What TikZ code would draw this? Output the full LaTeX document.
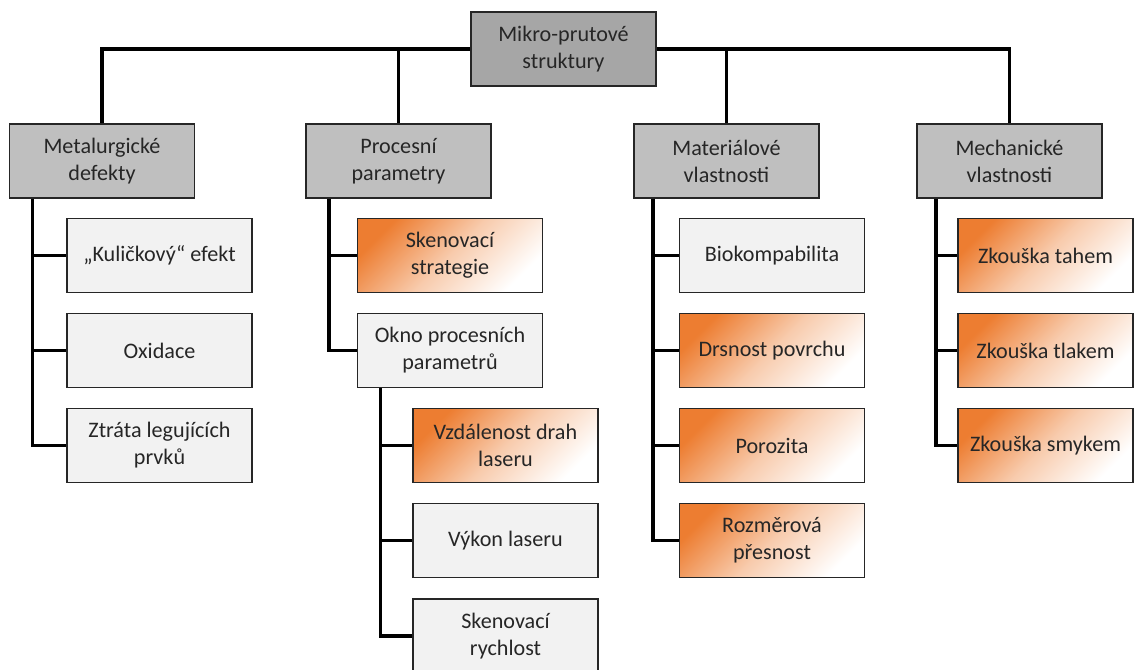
\documentclass[tikz,border=0pt]{standalone}
\usepackage{fontspec}
\setmainfont{Carlito}
\usetikzlibrary{positioning}
\definecolor{rootgray}{RGB}{166,166,166}
\definecolor{catgray}{RGB}{191,191,191}
\definecolor{leafgray}{RGB}{242,242,242}
\definecolor{leaforange}{RGB}{237,125,49}
\definecolor{boxline}{RGB}{38,38,38}
\definecolor{textgray}{RGB}{38,38,38}

\begin{document}
\begin{tikzpicture}[x=0.02cm, y=-0.02cm,
    box/.style={draw=boxline, line width=1.1pt, minimum width=3.7cm, minimum height=1.48cm,
        inner sep=0pt, align=center, text=textgray, font=\fontsize{12.6}{15.4}\selectfont},
    rootbox/.style={box, fill=rootgray},
    catbox/.style={box, fill=catgray},
    leafbox/.style={box, fill=leafgray},
    hotbox/.style={box, top color=leaforange, bottom color=white, middle color=leaforange!40, shading angle=45},
    conn/.style={line width=2pt, black}]
    \useasboundingbox (0,0) rectangle (1135,669);

    % Root
    \node[rootbox] (root) at (563.5,49) {Mikro-prutové\\struktury};

    % Categories
    \node[catbox] (metal) at (102,161) {Metalurgické\\defekty};
    \node[catbox] (proces) at (398.5,161) {Procesní\\parametry};
    \node[catbox] (mater) at (726.5,161) {Materiálové\\vlastnosti};
    \node[catbox] (mech) at (1009.5,161) {Mechanické\\vlastnosti};

    % Metalurgicke defekty
    \node[leafbox] (kul) at (159.5,255.5) {„Kuličkový“ efekt};
    \node[leafbox] (oxi) at (159.5,350.5) {Oxidace};
    \node[leafbox] (ztr) at (159.5,445.5) {Ztráta legujících\\prvků};

    % Procesni parametry
    \node[hotbox] (sken) at (450,255.5) {Skenovací\\strategie};
    \node[leafbox] (okno) at (450,350.5) {Okno procesních\\parametrů};
    \node[hotbox] (vzd) at (505.5,445.5) {Vzdálenost drah\\laseru};
    \node[leafbox] (vyk) at (505.5,540.5) {Výkon laseru};
    \node[leafbox] (rych) at (505.5,636) {Skenovací\\rychlost};

    % Materialove vlastnosti
    \node[leafbox] (bio) at (772,255.5) {Biokompabilita};
    \node[hotbox] (drs) at (772,350.5) {Drsnost povrchu};
    \node[hotbox] (por) at (772,445.5) {Porozita};
    \node[hotbox] (roz) at (772,540.5) {Rozměrová\\přesnost};

    % Mechanicke vlastnosti
    \node[hotbox, minimum width=3.5cm] (tah) at (1045.5,255.5) {Zkouška tahem};
    \node[hotbox, minimum width=3.5cm] (tlak) at (1045.5,350.5) {Zkouška tlakem};
    \node[hotbox, minimum width=3.5cm] (smyk) at (1045.5,445.5) {Zkouška smykem};

    % Top bar
    \draw[conn] (root.west) -| (metal.north);
    \draw[conn] (root.east) -| (mech.north);
    \draw[conn] (proces.north) -- (proces.north |- root.west);
    \draw[conn] (mater.north) -- (mater.north |- root.east);

    % Branches
    \foreach \k in {kul,oxi,ztr}
        \draw[conn] ([xshift=0.48cm]metal.south west) |- (\k.west);
    \foreach \k in {sken,okno}
        \draw[conn] ([xshift=0.48cm]proces.south west) |- (\k.west);
    \foreach \k in {vzd,vyk,rych}
        \draw[conn] ([xshift=0.48cm]okno.south west) |- (\k.west);
    \foreach \k in {bio,drs,por,roz}
        \draw[conn] ([xshift=0.4cm]mater.south west) |- (\k.west);
    \foreach \k in {tah,tlak,smyk}
        \draw[conn] ([xshift=0.4cm]mech.south west) |- (\k.west);
\end{tikzpicture}
\end{document}
